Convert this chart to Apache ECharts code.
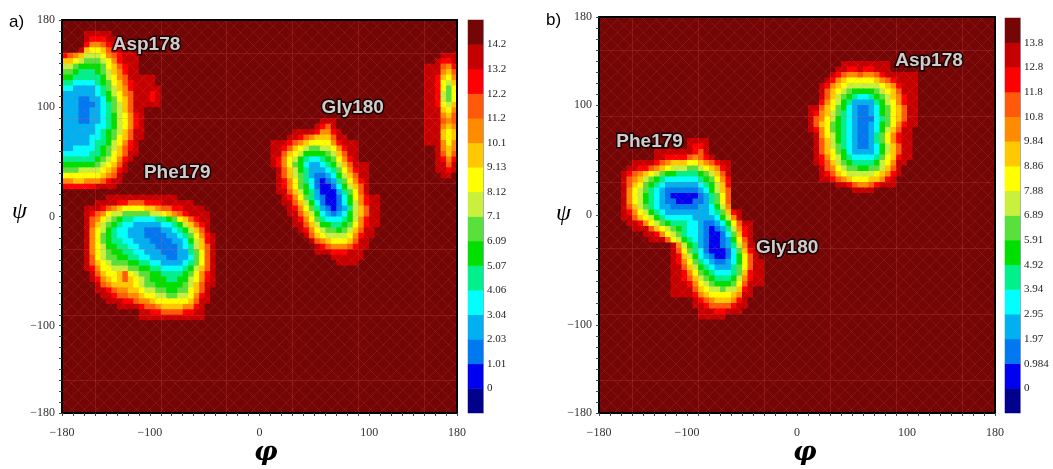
<!DOCTYPE html>
<html>
<head>
<meta charset="utf-8">
<script src="https://cdn.jsdelivr.net/npm/echarts@6/dist/echarts.min.js"></script>
<style>
  html, body { margin: 0; padding: 0; background: #fff; }
  #chart { width: 1053px; height: 469px; }
</style>
</head>
<body>
<div id="chart"></div>
<script>
// 5 degree cells, 72 x 72 per panel. Each cell holds a colour band index 0..15
// (15 = flat dark background). Rows are counted from the top (psi = 180).
const nCells = 72;
const cellDeg = 5;

const levelColors = [
  "#00008c", "#0000f0", "#0078f0", "#00b0f0", "#00ffff", "#00f08c", "#00e000", "#5ae03c",
  "#c8f03c", "#ffff00", "#ffc800", "#ff8c00", "#ff5a0a", "#ff0000", "#c40000", "#740606"
];

const barLabelsA = ["0", "1.01", "2.03", "3.04", "4.06", "5.07", "6.09", "7.1", "8.12", "9.13", "10.1", "11.2", "12.2", "13.2", "14.2"];
const barLabelsB = ["0", "0.984", "1.97", "2.95", "3.94", "4.92", "5.91", "6.89", "7.88", "8.86", "9.84", "10.8", "11.8", "12.8", "13.8"];

const phiTicks = [-180, -100, 0, 100, 180];
const psiTicks = [-180, -100, 0, 100, 180];
const guideLines = [-150, -90, -30, 30, 90, 150];

// [row, first column, band per cell (hex)]
const basinsA = [
  // Asp178
  [2, 4, "eeeee"],
  [3, 4, "edddee"],
  [4, 4, "dbbcdeeee"],
  [5, 3, "ea99acdeee"],
  [6, 0, "dcba8889bcdeee"],
  [7, 0, "aa9877789bdeee"],
  [8, 0, "887666679acdee"],
  [9, 0, "776555678abdee"],
  [10, 0, "6655555689bceeeee"],
  [11, 0, "5544445679acdeeee"],
  [12, 0, "4433334578abdeeeee"],
  [13, 0, "33333345689bceeede"],
  [14, 0, "33322334679aceeede"],
  [15, 0, "33322234578aceeeee"],
  [16, 0, "33322334578acee"],
  [17, 0, "333223345689bde"],
  [18, 0, "333223345689bde"],
  [19, 0, "333333445689bde"],
  [20, 0, "33333345678acee"],
  [21, 0, "33333445679acee"],
  [22, 0, "33333455689bde"],
  [23, 0, "3344445678acde"],
  [24, 0, "4444455679acee"],
  [25, 0, "5555556789bde"],
  [26, 0, "666666789ace"],
  [27, 0, "77788889abde"],
  [28, 0, "9999999abce"],
  [29, 0, "bbaabbbcdee"],
  [30, 0, "ddddddeeee"],
  // strip at the right edge
  [6, 69, "eee"],
  [7, 68, "edde"],
  [8, 66, "eeecbd"],
  [9, 66, "eeebac"],
  [10, 66, "eeda9b"],
  [11, 66, "eed98a"],
  [12, 66, "eed979"],
  [13, 66, "eed879"],
  [14, 66, "eed879"],
  [15, 66, "eed98a"],
  [16, 66, "eeea9b"],
  [17, 66, "eeebac"],
  [18, 66, "eeecbc"],
  [19, 66, "eeebab"],
  [20, 66, "eeea9a"],
  [21, 66, "eeea9a"],
  [22, 66, "eeeb9b"],
  [23, 68, "ebab"],
  [24, 68, "ecac"],
  [25, 68, "edbd"],
  [26, 68, "eece"],
  [27, 68, "eede"],
  [28, 69, "ee"],
  // Phe179
  [32, 8, "eeeeeeeeeeeee"],
  [33, 6, "eeeeddcccdddeeeeee"],
  [34, 4, "eeedcba9999aabccddeeee"],
  [35, 4, "edcb98877777889abcdeeee"],
  [36, 4, "ecb987655444455679acdee"],
  [37, 4, "eca8765443333344568acde"],
  [38, 4, "eb986544333222334568ace"],
  [39, 4, "eb9765443332222334579bde"],
  [40, 4, "eb9765544333222233468ade"],
  [41, 4, "eb9866554433322223458ace"],
  [42, 4, "eb98766554433322233579ce"],
  [43, 4, "ec98776655443332233479ce"],
  [44, 4, "eca9877766554433334579ce"],
  [45, 4, "edb998887766554444568ace"],
  [46, 5, "eca99ac9877665555679bde"],
  [47, 5, "edba9aca987666556689bde"],
  [48, 6, "ecbaaaa98776666678acee"],
  [49, 6, "eedcbbaa9887766779ace"],
  [50, 7, "eedccbba998877889bde"],
  [51, 8, "eeeddcbba999999acee"],
  [52, 10, "eeeedccbaaaabbde"],
  [53, 14, "eeddccccddee"],
  [54, 14, "eeeeeeeeeeee"],
  // Gly180
  [18, 47, "eee"],
  [19, 46, "edce"],
  [20, 42, "eeeedbbde"],
  [21, 41, "eedcbaaacee"],
  [22, 38, "eeedcba9999bdeee"],
  [23, 38, "eedca9877889bdee"],
  [24, 38, "eeca98666678acee"],
  [25, 38, "edb9865445679bde"],
  [26, 38, "edb9764334568aceee"],
  [27, 39, "eca8653334579bdee"],
  [28, 39, "eca8753223468acee"],
  [29, 39, "edb97542123579bde"],
  [30, 39, "edb97642112468ace"],
  [31, 39, "eeca86531113579ce"],
  [32, 40, "edb97532112469bdee"],
  [33, 40, "eeca8642112468bdee"],
  [34, 41, "edb9753212358acee"],
  [35, 41, "eeca864323468acee"],
  [36, 42, "edb975444568bdee"],
  [37, 42, "eeca86655679bdee"],
  [38, 43, "edb9877678acee"],
  [39, 44, "eca988889bdee"],
  [40, 45, "ecba999acee"],
  [41, 46, "edcbbbcdee"],
  [42, 46, "eeedddeee"],
  [43, 49, "eeeeee"],
  [44, 50, "eeee"]
];

const basinsB = [
  // Asp178
  [8, 44, "eeeeeeeee"],
  [9, 43, "eeddeddeee"],
  [10, 42, "edcbbcbbcdeeeeee"],
  [11, 41, "edba99999abcdeeee"],
  [12, 40, "edba98888889abdeee"],
  [13, 40, "eca9876666789aceee"],
  [14, 40, "eca8765445678abdee"],
  [15, 40, "db986533335689bdee"],
  [16, 38, "eeca976432234679acee"],
  [17, 38, "edba875432234679acee"],
  [18, 38, "ecb9865432224579acee"],
  [19, 38, "eca9765432234679bdee"],
  [20, 38, "edb976543223468acee"],
  [21, 39, "eb986543223579bdee"],
  [22, 39, "eca86543223579bdee"],
  [23, 39, "eca87543223468acee"],
  [24, 39, "eca97643333468acee"],
  [25, 39, "edb98654444579adee"],
  [26, 39, "edca8765555689bee"],
  [27, 40, "ecb987766778ace"],
  [28, 40, "edca9888889abde"],
  [29, 40, "eedcba999aabde"],
  [30, 43, "eedcbbcdeee"],
  [31, 46, "eeee"],
  // Phe179 / Gly180
  [22, 16, "eeee"],
  [23, 16, "edde"],
  [24, 10, "eeeeeeedce"],
  [25, 10, "eeddddcbcde"],
  [26, 6, "eeeedcbaaa99abcdee"],
  [27, 5, "eeddcba98887789abde"],
  [28, 4, "edcba987665555678ace"],
  [29, 4, "ecba87654444445679bd"],
  [30, 4, "eca976543333334568ad"],
  [31, 4, "eb9875432222223468ac"],
  [32, 4, "eb98654321111123579c"],
  [33, 4, "eb98654322111223579c"],
  [34, 4, "eca8754332222233468b"],
  [35, 4, "edb9865433333333457ade"],
  [36, 4, "eeca9865444443333468be"],
  [37, 5, "eedb9876555443223469cee"],
  [38, 6, "eeeca98765443212358bde"],
  [39, 8, "eedb9875443211247ade"],
  [40, 9, "eeec9865432112369ce"],
  [41, 13, "eb86532112358bee"],
  [42, 13, "ec97542111247ade"],
  [43, 13, "eda86432112469ce"],
  [44, 13, "edb97543223469cee"],
  [45, 13, "eeca8654333579cee"],
  [46, 13, "eedb976544457adee"],
  [47, 13, "eedca87655568bdee"],
  [48, 13, "eeedb98766679ceee"],
  [49, 13, "eeeeca988788ade"],
  [50, 13, "eeeedba9999abee"],
  [51, 17, "edcbaaabde"],
  [52, 17, "eedccccdee"],
  [53, 18, "eeeddeee"],
  [54, 18, "eeeee"]
];

// residue labels: [text, phi, psi]
const labelsA = [["Asp178", -103, 157], ["Phe179", -75, 40], ["Gly180", 85, 100]];
const labelsB = [["Phe179", -134, 67], ["Gly180", -9, -30], ["Asp178", 120, 140]];

// expand the rows into [phi centre, psi centre, band]
function buildCells(basins) {
  const rows = [];
  for (let j = 0; j < nCells; j++) rows.push(new Array(nCells).fill(15));
  basins.forEach(([row, start, s]) => {
    for (let k = 0; k < s.length; k++) rows[row][start + k] = parseInt(s[k], 16);
  });
  const data = [];
  for (let j = 0; j < nCells; j++) {
    for (let i = 0; i < nCells; i++) {
      data.push([-180 + cellDeg * (i + 0.5), 180 - cellDeg * (j + 0.5), rows[j][i]]);
    }
  }
  return data;
}

const bandCats = levelColors.map((_, i) => i);
const fmt = v => (v < 0 ? "\u2212" + (-v) : String(v));
const tickFont = { fontFamily: "Liberation Serif", fontSize: 12, color: "#333" };

// faint diagonal cross-hatch like the original bitmap
function hatchPattern() {
  const c = document.createElement("canvas");
  c.width = 13; c.height = 13;
  const ctx = c.getContext("2d");
  ctx.strokeStyle = "rgba(255,110,110,0.13)";
  ctx.lineWidth = 1;
  ctx.beginPath();
  ctx.moveTo(0, 0); ctx.lineTo(13, 13);
  ctx.moveTo(13, 0); ctx.lineTo(0, 13);
  ctx.stroke();
  return { image: c, repeat: "repeat" };
}
const hatch = hatchPattern();

const chart = echarts.init(document.getElementById("chart"), null, { renderer: "canvas" });

function valueAxis(g, pos, labels, ticks) {
  const isX = pos === "bottom" || pos === "top";
  return {
    type: "value", gridIndex: g, position: pos, min: -180, max: 180, interval: 10, z: 6,
    axisLine: { show: true, onZero: false, lineStyle: { color: "#000", width: 2 } },
    axisTick: { show: !!labels, length: 3, lineStyle: { color: "#444" } },
    axisLabel: labels
      ? Object.assign({ margin: isX ? 14 : 7, formatter: v => (ticks.includes(v) ? fmt(v) : "") }, tickFont)
      : { show: false },
    splitLine: { show: false }
  };
}

function barAxis(g, labels) {
  return {
    type: "value", gridIndex: g, position: "right", min: 0, max: 16, interval: 1,
    axisLine: { show: true, onZero: false, lineStyle: { color: "#a0a0c8", width: 1 } },
    axisTick: { show: false },
    axisLabel: {
      margin: 4, fontFamily: "Liberation Serif", fontSize: 11, color: "#222", padding: [6, 0, 0, 0],
      formatter: v => (v >= 1 && v <= 15 ? labels[v - 1] : "")
    },
    splitLine: { show: false }
  };
}

const hidden = (g, data) => ({ type: "category", gridIndex: g, data: data, show: false });

function cellSeries(xi, yi, data) {
  return {
    type: "custom", xAxisIndex: xi, yAxisIndex: yi, data: data, silent: true, progressive: 0,
    renderItem: (params, api) => {
      const h = cellDeg / 2;
      const p0 = api.coord([api.value(0) - h, api.value(1) + h]);
      const p1 = api.coord([api.value(0) + h, api.value(1) - h]);
      return {
        type: "rect",
        shape: { x: p0[0], y: p0[1], width: p1[0] - p0[0] + 1, height: p1[1] - p0[1] + 1 },
        style: { fill: levelColors[api.value(2)] }
      };
    }
  };
}

function labelSeries(xi, yi, labels) {
  return {
    type: "scatter", xAxisIndex: xi, yAxisIndex: yi, symbolSize: 0, silent: true, z: 10,
    data: labels.map(([n, x, y]) => ({ name: n, value: [x, y] })),
    label: {
      show: true, position: "inside", formatter: "{b}", color: "#fff",
      fontFamily: "Liberation Sans", fontWeight: "bold", fontSize: 19,
      textBorderColor: "#000", textBorderWidth: 3
    },
    markLine: {
      silent: true, symbol: "none", label: { show: false },
      lineStyle: { color: "rgba(255,90,90,0.2)", width: 1, type: "solid" },
      data: guideLines.map(v => ({ xAxis: v })).concat(guideLines.map(v => ({ yAxis: v })))
    }
  };
}

const bar = (xi, yi) => ({
  type: "heatmap", xAxisIndex: xi, yAxisIndex: yi, data: bandCats.map(k => [0, k, k]),
  progressive: 0, emphasis: { disabled: true }, itemStyle: { borderWidth: 0 }
});

const option = {
  animation: false,
  backgroundColor: "#fff",
  grid: [
    { left: 62, top: 20, width: 395, height: 393 },
    { left: 468, top: 20, width: 15, height: 393 },
    { left: 599, top: 17, width: 396, height: 396 },
    { left: 1005, top: 18, width: 15, height: 395 }
  ],
  xAxis: [
    valueAxis(0, "bottom", true, phiTicks),
    valueAxis(0, "top", false),
    hidden(1, ["c"]),
    valueAxis(2, "bottom", true, phiTicks),
    valueAxis(2, "top", false),
    hidden(3, ["c"])
  ],
  yAxis: [
    valueAxis(0, "left", true, psiTicks),
    valueAxis(0, "right", false),
    barAxis(1, barLabelsA),
    hidden(1, bandCats),
    valueAxis(2, "left", true, psiTicks),
    valueAxis(2, "right", false),
    barAxis(3, barLabelsB),
    hidden(3, bandCats)
  ],
  visualMap: {
    type: "piecewise", show: false, dimension: 2, seriesIndex: [1, 4],
    pieces: levelColors.map((c, k) => ({ gte: k - 0.5, lt: k + 0.5, color: c }))
  },
  series: [
    cellSeries(0, 0, buildCells(basinsA)),
    bar(2, 3),
    labelSeries(0, 0, labelsA),
    cellSeries(3, 4, buildCells(basinsB)),
    bar(5, 7),
    labelSeries(3, 4, labelsB)
  ],
  graphic: [
    { type: "rect", z: 4, silent: true, shape: { x: 62, y: 20, width: 395, height: 393 }, style: { fill: hatch } },
    { type: "rect", z: 4, silent: true, shape: { x: 599, y: 17, width: 396, height: 396 }, style: { fill: hatch } },
    { type: "text", left: 9, top: 14, style: { text: "a)", font: "17px 'Liberation Sans'", fill: "#000" } },
    { type: "text", left: 546, top: 12, style: { text: "b)", font: "17px 'Liberation Sans'", fill: "#000" } },
    { type: "text", left: 12, top: 200, style: { text: "\u03c8", font: "italic 24px 'Liberation Serif'", fill: "#000" } },
    { type: "text", left: 556, top: 202, style: { text: "\u03c8", font: "italic 24px 'Liberation Serif'", fill: "#000" } },
    { type: "text", left: 254, top: 440, style: { text: "\u03c6", font: "italic bold 26px 'DejaVu Serif'", fill: "#000" } },
    { type: "text", left: 793, top: 440, style: { text: "\u03c6", font: "italic bold 26px 'DejaVu Serif'", fill: "#000" } }
  ]
};

chart.setOption(option);
window.addEventListener("resize", () => chart.resize());
</script>
</body>
</html>
